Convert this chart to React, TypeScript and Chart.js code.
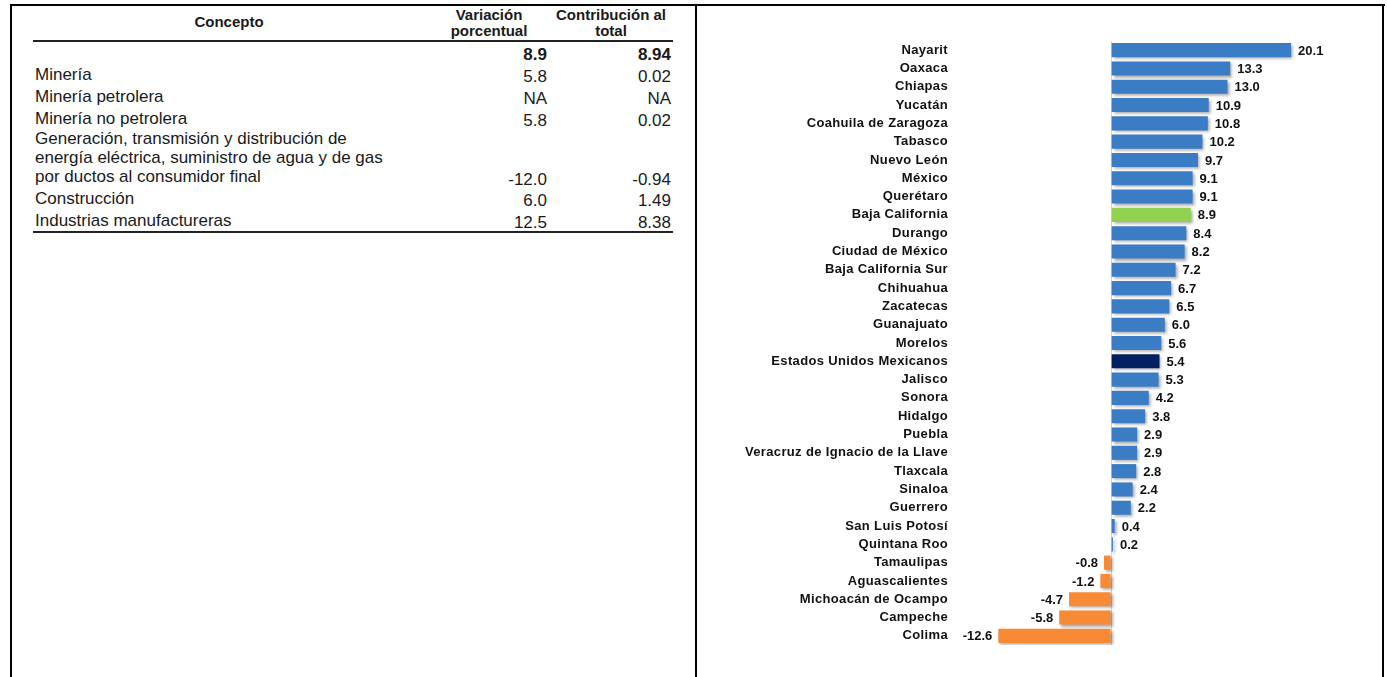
import React, { useEffect, useRef } from 'react';
import { Chart, registerables } from 'chart.js';

Chart.register(...registerables);

// ---------- chart data ----------
const states: string[] = [
  'Nayarit', 'Oaxaca', 'Chiapas', 'Yucatán', 'Coahuila de Zaragoza', 'Tabasco',
  'Nuevo León', 'México', 'Querétaro', 'Baja California', 'Durango',
  'Ciudad de México', 'Baja California Sur', 'Chihuahua', 'Zacatecas',
  'Guanajuato', 'Morelos', 'Estados Unidos Mexicanos', 'Jalisco', 'Sonora',
  'Hidalgo', 'Puebla', 'Veracruz de Ignacio de la Llave', 'Tlaxcala', 'Sinaloa',
  'Guerrero', 'San Luis Potosí', 'Quintana Roo', 'Tamaulipas', 'Aguascalientes',
  'Michoacán de Ocampo', 'Campeche', 'Colima',
];
const variation: number[] = [
  20.1, 13.3, 13.0, 10.9, 10.8, 10.2, 9.7, 9.1, 9.1, 8.9, 8.4, 8.2, 7.2, 6.7, 6.5,
  6.0, 5.6, 5.4, 5.3, 4.2, 3.8, 2.9, 2.9, 2.8, 2.4, 2.2, 0.4, 0.2, -0.8, -1.2,
  -4.7, -5.8, -12.6,
];
const highlightState = 'Baja California';
const nationalState = 'Estados Unidos Mexicanos';

// ---------- table data ----------
const tableHeaders: string[] = ['Concepto', 'Variación\nporcentual', 'Contribución al\ntotal'];
const tableConcepts: string[] = [
  '',
  'Minería',
  'Minería petrolera',
  'Minería no petrolera',
  'Generación, transmisión y distribución de\nenergía eléctrica, suministro de agua y de gas\npor ductos al consumidor final',
  'Construcción',
  'Industrias manufactureras',
];
const tableVariacion: string[] = ['8.9', '5.8', 'NA', '5.8', '-12.0', '6.0', '12.5'];
const tableContribucion: string[] = ['8.94', '0.02', 'NA', '0.02', '-0.94', '1.49', '8.38'];

const BLUE = '#3a7dc4';
const ORANGE = '#f88a36';
const GREEN = '#92d050';
const NAVY = '#002060';
const FONT = '"Liberation Sans", Arial, sans-serif';

const barColor = (name: string, v: number) =>
  name === highlightState ? GREEN : name === nationalState ? NAVY : v < 0 ? ORANGE : BLUE;

const BarChart: React.FC = () => {
  const ref = useRef<HTMLCanvasElement | null>(null);
  useEffect(() => {
    if (!ref.current) return;
    const plugin = {
      id: 'shadowLabels',
      beforeDraw(chart: any) {
        (chart.ctx as any).letterSpacing = '0.35px';
      },
      beforeDatasetsDraw(chart: any) {
        const ctx = chart.ctx;
        ctx.save();
        ctx.shadowColor = 'rgba(0,0,0,0.35)';
        ctx.shadowBlur = 3;
        ctx.shadowOffsetX = 2;
        ctx.shadowOffsetY = 2;
      },
      afterDatasetsDraw(chart: any) {
        const ctx = chart.ctx;
        ctx.restore();
        const meta = chart.getDatasetMeta(0);
        const data = chart.data.datasets[0].data as number[];
        ctx.save();
        (ctx as any).letterSpacing = '0px';
        ctx.font = `bold 13px ${FONT}`;
        ctx.fillStyle = '#111';
        ctx.textBaseline = 'middle';
        meta.data.forEach((el: any, i: number) => {
          const v = data[i];
          const txt = v.toFixed(1);
          if (v >= 0) {
            ctx.textAlign = 'left';
            ctx.fillText(txt, el.x + 7, el.y + 1);
          } else {
            ctx.textAlign = 'right';
            ctx.fillText(txt, el.x - 6, el.y + 1);
          }
        });
        ctx.restore();
      },
    };
    const chart = new Chart(ref.current, {
      type: 'bar',
      data: {
        labels: states,
        datasets: [
          {
            data: variation,
            backgroundColor: states.map((s, i) => barColor(s, variation[i])),
            borderWidth: 0,
            barPercentage: 0.77,
            categoryPercentage: 1,
          },
        ],
      },
      options: {
        indexAxis: 'y',
        animation: false,
        responsive: false,
        maintainAspectRatio: false,
        layout: { padding: { top: 35, bottom: 32, left: 0, right: 56 } },
        plugins: { legend: { display: false }, tooltip: { enabled: false } },
        scales: {
          x: {
            type: 'linear',
            min: -18,
            max: 24,
            ticks: { display: false, stepSize: 6 },
            grid: {
              drawTicks: false,
              color: (c: any) => (c.tick && c.tick.value === 0 ? '#d4d4d4' : 'rgba(0,0,0,0)'),
              lineWidth: 1,
            },
            border: { display: false },
            afterFit: (s: any) => {
              s.height = 0;
            },
          },
          y: {
            ticks: {
              font: { family: FONT, size: 13, weight: 'bold' },
              color: '#111',
              padding: 2,
              autoSkip: false,
            },
            grid: { display: false, drawTicks: false },
            border: { display: false },
            afterFit: (s: any) => {
              s.width = 252;
            },
          },
        },
      },
      plugins: [plugin],
    } as any);
    return () => chart.destroy();
  }, []);
  return (
    <canvas
      ref={ref}
      width={684}
      height={671}
      style={{ position: 'absolute', left: 698, top: 6, width: 684, height: 671 }}
    />
  );
};

const App: React.FC = () => {
  const labelY = [0, 74, 96, 118, 157, 198, 220];
  const valueY = [54, 76, 98, 120, 179, 200, 222];
  const lh = 19;
  const body: React.CSSProperties = {
    position: 'absolute',
    fontFamily: FONT,
    fontSize: 17,
    lineHeight: `${lh}px`,
    color: '#1a1a1a',
    whiteSpace: 'pre',
  };
  const head: React.CSSProperties = {
    position: 'absolute',
    fontFamily: FONT,
    fontSize: 15,
    fontWeight: 'bold',
    lineHeight: '16px',
    color: '#1a1a1a',
    whiteSpace: 'pre',
    textAlign: 'center',
  };
  const line = (l: number, t: number, w: number, h: number, c = '#000') => (
    <div style={{ position: 'absolute', left: l, top: t, width: w, height: h, background: c }} />
  );
  return (
    <div
      style={{
        position: 'fixed',
        left: 0,
        top: 0,
        width: 1387,
        height: 677,
        overflow: 'hidden',
        background: '#fff',
      }}
    >
      {/* frame */}
      {line(10, 4, 1375, 2)}
      {line(10, 4, 2, 680)}
      {line(695, 4, 2, 680)}
      {line(1382, 4, 2, 680)}

      {/* table header */}
      <div style={{ ...head, left: 129, width: 200, top: 22 - 8 }}>{tableHeaders[0]}</div>
      <div style={{ ...head, left: 429, width: 120, top: 7 }}>{tableHeaders[1]}</div>
      <div style={{ ...head, left: 546, width: 130, top: 7 }}>{tableHeaders[2]}</div>
      {line(33, 40, 640, 1.5, '#222')}

      {/* table body */}
      {tableConcepts.map((c, i) =>
        c ? (
          <div
            key={'c' + i}
            style={{
              ...body,
              left: 35,
              top: labelY[i] - (lh * c.split('\n').length) / 2,
            }}
          >
            {c}
          </div>
        ) : null
      )}
      {tableVariacion.map((v, i) => (
        <div
          key={'v' + i}
          style={{
            ...body,
            right: 1387 - 547,
            top: valueY[i] - lh / 2,
            textAlign: 'right',
            fontWeight: i === 0 ? 'bold' : 'normal',
          }}
        >
          {v}
        </div>
      ))}
      {tableContribucion.map((v, i) => (
        <div
          key={'t' + i}
          style={{
            ...body,
            right: 1387 - 671,
            top: valueY[i] - lh / 2,
            textAlign: 'right',
            fontWeight: i === 0 ? 'bold' : 'normal',
          }}
        >
          {v}
        </div>
      ))}
      {line(33, 231, 640, 1.5, '#222')}

      <BarChart />
    </div>
  );
};

export default App;
